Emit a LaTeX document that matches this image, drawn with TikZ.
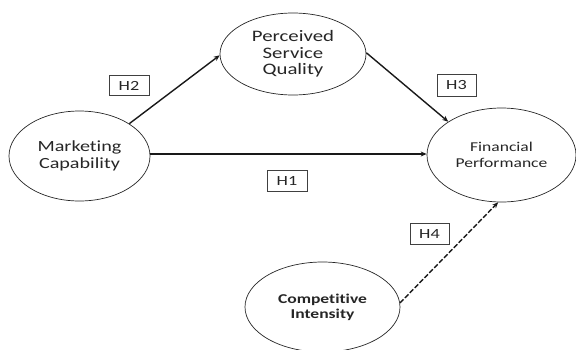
\documentclass[tikz,border=0pt]{standalone}
\usepackage{fontspec}
\setmainfont{Carlito}[FakeStretch=1.3,Ligatures=NoCommon]
\usetikzlibrary{shapes.geometric,arrows.meta}
\begin{document}
\begin{tikzpicture}[x=1pt,y=-1pt,
  construct/.style={draw=black!85,line width=0.7pt,ellipse,inner sep=0pt,align=center,text=black!85},
  hbox/.style={draw=black!75,line width=0.7pt,minimum width=39pt,minimum height=21pt,inner sep=0pt,font=\fontsize{14}{16}\selectfont,text=black!85},
  link/.style={line width=1.4pt,draw=black!90,-{Stealth[length=6pt,width=5pt]}}]
\useasboundingbox (0,0) rectangle (576,349);
\node[construct,minimum width=146pt,minimum height=82pt,font=\fontsize{16}{16.5}\selectfont] (psq) at (293,54) {Perceived\\Service\\Quality};
\node[construct,minimum width=141pt,minimum height=90pt,font=\fontsize{15.5}{16.5}\selectfont] (mc) at (79.5,156) {Marketing\\Capability};
\node[construct,minimum width=149pt,minimum height=94pt,font=\fontsize{13.5}{15.5}\selectfont] (fp) at (501.5,155) {Financial\\Performance};
\node[construct,minimum width=155pt,minimum height=90pt,font=\bfseries\fontsize{13.5}{15}\selectfont] (ci) at (322.5,307) {Competitive\\Intensity};
\node[hbox,minimum width=40pt,minimum height=20pt] (h2) at (129,85.5) {H2};
\node[hbox,minimum height=22pt] (h3) at (456.5,85.5) {H3};
\node[hbox,minimum width=40pt] (h1) at (287,180.5) {H1};
\node[hbox] (h4) at (429.5,233.5) {H4};
\draw[link] (mc.33) -- (psq.181);
\draw[link] (psq.1) -- (fp.148);
\draw[link] (mc.east |- 0,154) -- (fp.west |- 0,154);
\draw[link,dashed,dash pattern=on 5pt off 2pt] (ci.3) -- (fp.266);
\end{tikzpicture}
\end{document}
